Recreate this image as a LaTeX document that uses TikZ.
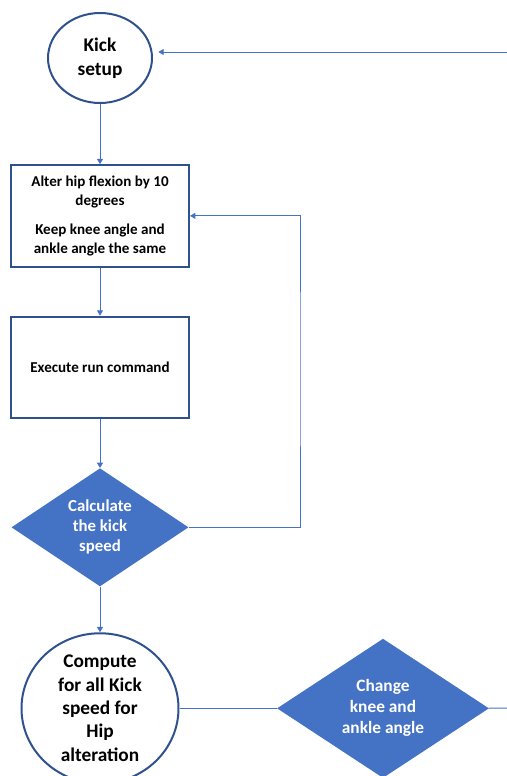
\documentclass[tikz,border=0pt]{standalone}
\usepackage{fontspec}
\setmainfont{Carlito}
\usetikzlibrary{positioning,shapes.geometric,arrows.meta}
\definecolor{flowblue}{HTML}{4472C4}
\definecolor{flowdark}{HTML}{2F528F}

\begin{document}
\begin{tikzpicture}[x=0.75pt, y=-0.75pt, on grid, >={Triangle[width=4.5pt,length=4pt]},
    every node/.style={font=\bfseries, align=center, inner sep=0pt},
    term/.style={ellipse, draw=flowdark, line width=1.5pt},
    proc/.style={rectangle, draw=flowdark, line width=1.5pt, minimum width=133.5pt, minimum height=76pt,
      font=\bfseries\fontsize{11.3}{14.5}\selectfont},
    test/.style={diamond, fill=flowblue, text=white},
    flow/.style={color=flowblue, line width=0.75pt}]
      \useasboundingbox (0,0) rectangle (507,776);

      \node (0) [term, minimum width=78pt, minimum height=67.5pt,
                 font=\bfseries\fontsize{14.5}{18}\selectfont] at (100,58) {Kick\\setup};
      \node (1) [proc, below=118.4pt of 0] {Alter hip flexion by 10\\degrees\\[7pt]Keep knee angle and\\ankle angle the same};
      \node (2) [proc, below=113.6pt of 1] {Execute run command};
      \node (3) [test, below=120pt of 2, minimum width=132.75pt, minimum height=80.25pt,
                 font=\bfseries\fontsize{12.6}{15}\selectfont] {Calculate\\the kick\\speed};
      \node (4) [term, below=135.75pt of 3, minimum width=117.75pt, minimum height=112.5pt,
                 font=\bfseries\fontsize{14.5}{17.5}\selectfont] {Compute\\for all Kick\\speed for\\Hip\\alteration};
      \node (5) [test, right=212.25pt of 4, minimum width=159pt, minimum height=93pt,
                 font=\bfseries\fontsize{13}{15.75}\selectfont] {Change\\knee and\\ankle angle};

      \coordinate (r) at (507,52);
      \coordinate (c) at (300,367);
      \coordinate (o) at (507,708);

      \path[flow, ->]
        (0) edge (1)
        (1) edge (2)
        (2) edge (3)
        (3) edge (4)
        (4) edge [-] (5)
        (5) edge [-] (o)
        (r) edge [shorten >=4pt] (r -| 0.east);
      \draw[flow, ->] (3) -| (c) |- (1);
    \end{tikzpicture}
\end{document}
